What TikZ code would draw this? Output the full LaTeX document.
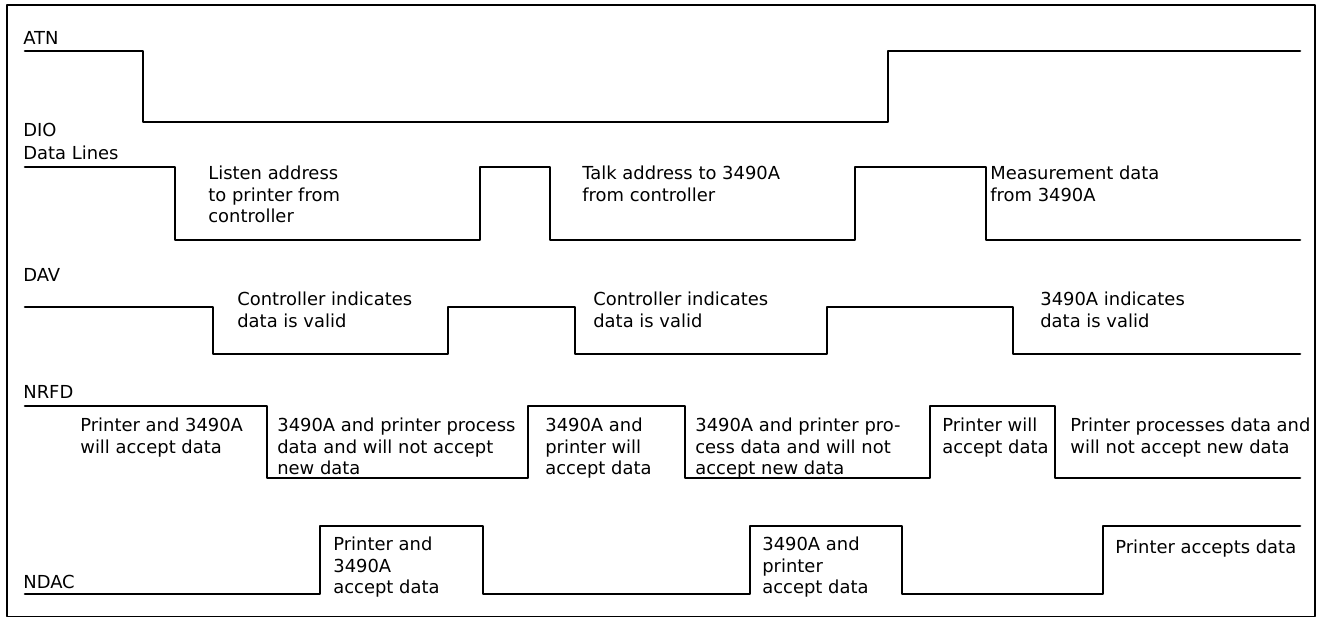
\documentclass[tikz,border=0pt]{standalone}
\usepackage{fontspec}
\setmainfont{DejaVu Sans}
\usepackage{pgf,tikz}

\begin{document}
\begin{tikzpicture}[line cap=round,line join=round,x=1.0cm,y=1.0cm,
  font=\fontsize{10.2}{12}\selectfont,
  sig/.style={line width=1.5pt},
  lbl/.style={anchor=west,inner sep=0pt},
  txt/.style={anchor=north west,align=left,inner sep=0pt}]

\useasboundingbox (0.,0.) rectangle (26.38,12.38);
\draw[line width=1.1pt] (0.14,0.05) rectangle (26.3,12.28);

% ATN
\draw[sig] (0.5,11.36)-- (2.86,11.36)-- (2.86,9.94)-- (17.76,9.94)-- (17.76,11.36)-- (26.,11.36);
% DIO
\draw[sig] (0.5,9.04)-- (3.5,9.04)-- (3.5,7.58)-- (9.6,7.58)-- (9.6,9.04)-- (11.,9.04)-- (11.,7.58)-- (17.1,7.58)-- (17.1,9.04)-- (19.72,9.04)-- (19.72,7.58)-- (26.,7.58);
% DAV
\draw[sig] (0.5,6.24)-- (4.26,6.24)-- (4.26,5.3)-- (8.96,5.3)-- (8.96,6.24)-- (11.5,6.24)-- (11.5,5.3)-- (16.54,5.3)-- (16.54,6.24)-- (20.26,6.24)-- (20.26,5.3)-- (26.,5.3);
% NRFD
\draw[sig] (0.5,4.26)-- (5.34,4.26)-- (5.34,2.82)-- (10.56,2.82)-- (10.56,4.26)-- (13.7,4.26)-- (13.7,2.82)-- (18.6,2.82)-- (18.6,4.26)-- (21.1,4.26)-- (21.1,2.82)-- (26.,2.82);
% NDAC
\draw[sig] (0.5,0.5)-- (6.4,0.5)-- (6.4,1.86)-- (9.66,1.86)-- (9.66,0.5)-- (15.,0.5)-- (15.,1.86)-- (18.04,1.86)-- (18.04,0.5)-- (22.06,0.5)-- (22.06,1.86)-- (26.,1.86);

\draw[color=black] (0.46,11.62) node[lbl] (atn) {ATN};
\draw[color=black] (0.46,9.78) node[lbl] (dio) {DIO};
\draw[color=black] (0.46,9.32) node[lbl] (datalines) {Data Lines};
\draw[color=black] (0.46,6.88) node[lbl] (dav) {DAV};
\draw[color=black] (0.46,4.54) node[lbl] (nrfd) {NRFD};
\draw[color=black] (0.46,0.74) node[lbl] (ndac) {NDAC};

\draw[color=black] (4.16,9.06) node[txt] (listen) {Listen address\\to printer from\\controller};
\draw[color=black] (11.64,9.06) node[txt] (talk) {Talk address to 3490A\\from controller};
\draw[color=black] (19.8,9.06) node[txt] (meas) {Measurement data\\from 3490A};

\draw[color=black] (4.74,6.54) node[txt] (davone) {Controller indicates\\data is valid};
\draw[color=black] (11.86,6.54) node[txt] (davtwo) {Controller indicates\\data is valid};
\draw[color=black] (20.8,6.54) node[txt] (davthree) {3490A indicates\\data is valid};

\draw[color=black] (1.6,4.02) node[txt] (rfdone) {Printer and 3490A\\will accept data};
\draw[color=black] (5.54,4.02) node[txt] (rfdtwo) {3490A and printer process\\data and will not accept\\new data};
\draw[color=black] (10.9,4.02) node[txt] (rfdthree) {3490A and\\printer will\\accept data};
\draw[color=black] (13.9,4.02) node[txt] (rfdfour) {3490A and printer pro-\\cess data and will not\\accept new data};
\draw[color=black] (18.84,4.02) node[txt] (rfdfive) {Printer will\\accept data};
\draw[color=black] (21.4,4.02) node[txt] (rfdsix) {Printer processes data and\\will not accept new data};

\draw[color=black] (6.66,1.64) node[txt] (dacone) {Printer and\\3490A\\accept data};
\draw[color=black] (15.24,1.64) node[txt] (dactwo) {3490A and\\printer\\accept data};
\draw[color=black] (22.3,1.58) node[txt] (dacthree) {Printer accepts data};

\end{tikzpicture}
\end{document}
